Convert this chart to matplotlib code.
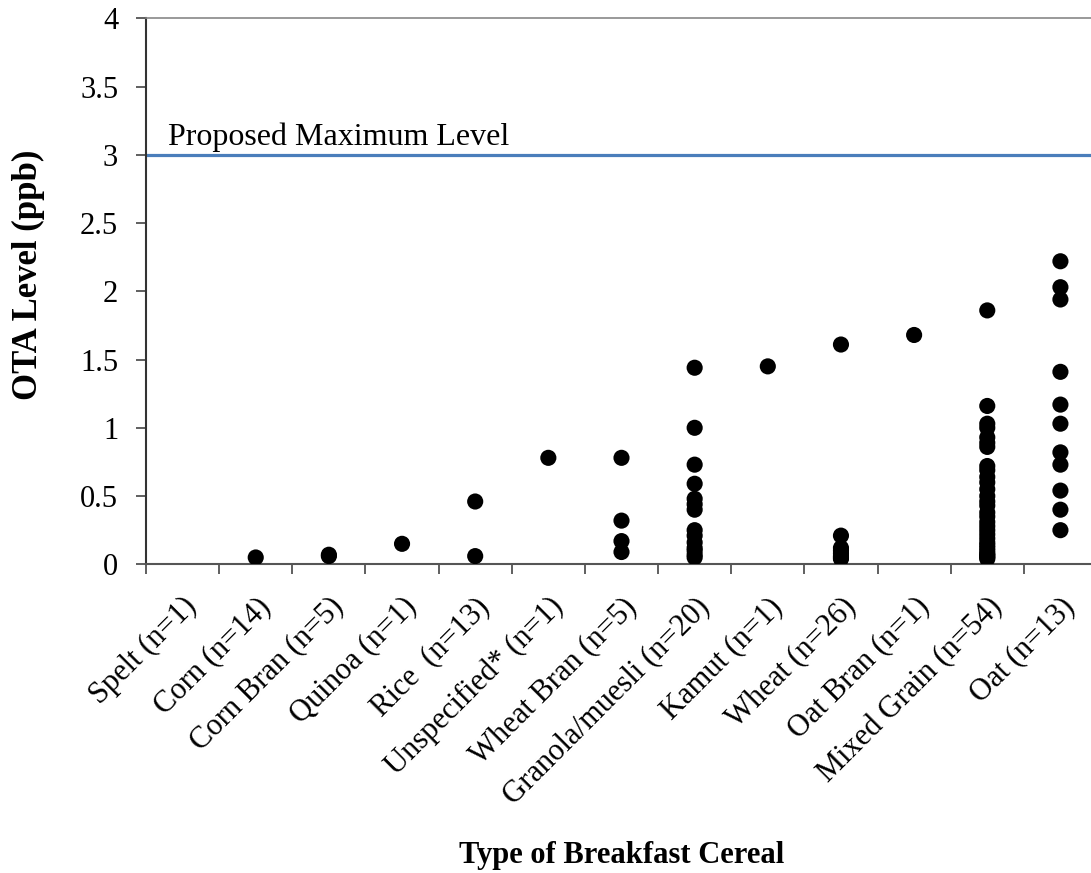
import matplotlib.pyplot as plt
from matplotlib.ticker import FixedLocator

plt.rcParams['font.family'] = ['Liberation Serif', 'DejaVu Serif']

categories = ["Spelt (n=1)", "Corn (n=14)", "Corn Bran (n=5)", "Quinoa (n=1)",
              "Rice  (n=13)", "Unspecified* (n=1)", "Wheat Bran (n=5)",
              "Granola/muesli (n=20)", "Kamut (n=1)", "Wheat (n=26)",
              "Oat Bran (n=1)", "Mixed Grain (n=54)", "Oat (n=13)"]

spelt = []
corn = [0.05]
corn_bran = [0.06, 0.07]
quinoa = [0.15]
rice = [0.46, 0.06]
unspecified = [0.78]
wheat_bran = [0.78, 0.32, 0.17, 0.09]
granola = [1.44, 1.00, 0.73, 0.59, 0.48, 0.44, 0.40, 0.25, 0.21, 0.16,
           0.12, 0.10, 0.07, 0.05]
kamut = [1.45]
wheat = [1.61, 0.21, 0.12, 0.10, 0.08, 0.06, 0.05, 0.04]
oat_bran = [1.68]
mixed_grain = [1.86, 1.16, 1.03, 1.00, 0.93, 0.89, 0.86, 0.72, 0.69, 0.64,
               0.60, 0.55, 0.50, 0.46, 0.43, 0.38, 0.35, 0.31, 0.28, 0.25,
               0.22, 0.19, 0.16, 0.14, 0.12, 0.10, 0.08, 0.07, 0.06, 0.05, 0.04]
oat = [2.22, 2.03, 1.94, 1.41, 1.17, 1.03, 0.82, 0.73, 0.54, 0.40, 0.25]

groups = [spelt, corn, corn_bran, quinoa, rice, unspecified, wheat_bran,
          granola, kamut, wheat, oat_bran, mixed_grain, oat]

max_level = 3.0

fig = plt.figure(figsize=(10.91, 8.73), dpi=100)
ax = fig.add_axes([146 / 1091, 308.7 / 873, 951 / 1091, 546 / 873])

for i, vals in enumerate(groups):
    if vals:
        ax.scatter([i + 1] * len(vals), vals, s=135, color="black",
                   edgecolors="none", zorder=3)

ax.axhline(max_level, color="#4a7ebb", lw=2.3, zorder=2)
ax.text(0.8, 3.07, "Proposed Maximum Level", fontsize=23, va="baseline",
        ha="left")

ax.set_xlim(0.5, len(categories) + 0.5)
ax.set_ylim(0, 4)
ax.set_yticks([0, 0.5, 1, 1.5, 2, 2.5, 3, 3.5, 4])
ax.set_yticklabels(["0", "0.5", "1", "1.5", "2", "2.5", "3", "3.5", "4"])

# labels at category centres, tick marks at category boundaries
ax.set_xticks(range(1, len(categories) + 1))
ax.set_xticklabels(categories, rotation=45, ha="right", va="top",
                   rotation_mode="anchor")
ax.xaxis.set_minor_locator(FixedLocator([i + 0.5 for i in range(len(categories) + 1)]))
ax.tick_params(axis="x", which="major", length=0, pad=20, labelsize=22)
ax.tick_params(axis="x", which="minor", length=7, width=1.2, direction="out",
               color="#444444")
ax.tick_params(axis="y", length=7, width=1.2, direction="out", labelsize=22,
               pad=13, color="#444444")

ax.spines["left"].set_color("#333333")
ax.spines["left"].set_linewidth(1.5)
ax.spines["bottom"].set_color("#555555")
ax.spines["bottom"].set_linewidth(1.5)
ax.spines["top"].set_color("#888888")
ax.spines["top"].set_linewidth(1.2)
ax.spines["right"].set_visible(False)

ax.set_ylabel("OTA Level (ppb)", fontsize=25, fontweight="bold")
ax.yaxis.set_label_coords(-0.106, 0.53)
fig.text(622 / 1091, 1 - 855 / 873, "Type of Breakfast Cereal", fontsize=22,
         fontweight="bold", ha="center", va="center")

fig.savefig("out.png", dpi=100)
